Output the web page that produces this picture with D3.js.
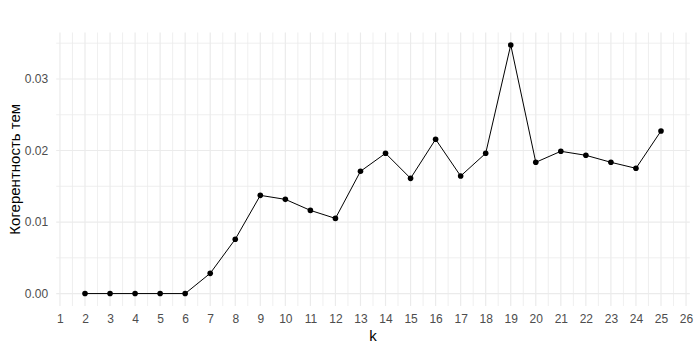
<!DOCTYPE html>
<html lang="ru">

<head>
    <meta charset="UTF-8">
    <title>Когерентность тем</title>
    <script src="https://d3js.org/d3.v7.min.js"></script>
    <style>
        body { margin: 0; background: #fff; }
        text { font-family: "Liberation Sans", Arial, sans-serif; }
    </style>
</head>

<body>
    <div id="chart"></div>
    <script>
        // data
        var kValues = [2, 3, 4, 5, 6, 7, 8, 9, 10, 11, 12, 13, 14, 15, 16, 17, 18, 19, 20, 21, 22, 23, 24, 25];
        var coherence = [0, 0, 0, 0, 0, 0.00283, 0.0076, 0.01373, 0.01317, 0.01163, 0.01051, 0.01709,
            0.01961, 0.01611, 0.02157, 0.01643, 0.01961, 0.03476, 0.01835, 0.01989, 0.01933, 0.01835,
            0.01751, 0.02273];
        var xTicks = d3.range(1, 27);
        var yTicks = [0, 0.01, 0.02, 0.03];

        var w = 700,
            h = 350;
        var panel = { left: 56.2, right: 689.8, top: 32.5, bottom: 306 };

        var data = kValues.map(function(k, i) {
            return { k: k, v: coherence[i] };
        });

        var svg = d3.select("#chart").append("svg")
            .attr("width", w)
            .attr("height", h);

        // ggplot-style 5% expansion
        var xr = d3.extent(kValues), yr = d3.extent(coherence);
        var xPad = (xr[1] - xr[0]) * 0.05, yPad = (yr[1] - yr[0]) * 0.05;

        var x = d3.scaleLinear()
            .domain([xr[0] - xPad, xr[1] + xPad])
            .range([panel.left, panel.right]);
        var y = d3.scaleLinear()
            .domain([yr[0] - yPad, yr[1] + yPad])
            .range([panel.bottom, panel.top]);

        var grid = svg.append("g");

        //minor grid ----------------------
        var xMinor = d3.range(0.5, 27, 1).filter(function(d) { return d >= x.domain()[0] && d <= x.domain()[1]; });
        var yMinor = d3.range(0.005, 0.04, 0.01).filter(function(d) { return d <= y.domain()[1]; });

        grid.selectAll(".xminor").data(xMinor).enter().append("line")
            .attr("x1", function(d) { return x(d); })
            .attr("x2", function(d) { return x(d); })
            .attr("y1", panel.top).attr("y2", panel.bottom)
            .attr("stroke", "#ebebeb").attr("stroke-width", 0.8);
        grid.selectAll(".yminor").data(yMinor).enter().append("line")
            .attr("x1", panel.left).attr("x2", panel.right)
            .attr("y1", function(d) { return y(d); })
            .attr("y2", function(d) { return y(d); })
            .attr("stroke", "#ebebeb").attr("stroke-width", 0.8);

        //major grid ----------------------
        grid.selectAll(".xmajor").data(xTicks).enter().append("line")
            .attr("x1", function(d) { return x(d); })
            .attr("x2", function(d) { return x(d); })
            .attr("y1", panel.top).attr("y2", panel.bottom)
            .attr("stroke", "#ebebeb").attr("stroke-width", 1.2);
        grid.selectAll(".ymajor").data(yTicks).enter().append("line")
            .attr("x1", panel.left).attr("x2", panel.right)
            .attr("y1", function(d) { return y(d); })
            .attr("y2", function(d) { return y(d); })
            .attr("stroke", "#ebebeb").attr("stroke-width", 1.2);

        //axes (labels only) ---------------
        var xAxis = svg.append("g")
            .attr("transform", "translate(0," + panel.bottom + ")")
            .call(d3.axisBottom(x).tickValues(xTicks).tickSize(0).tickPadding(8).tickFormat(d3.format("d")));
        var yAxis = svg.append("g")
            .attr("transform", "translate(" + panel.left + ",0)")
            .call(d3.axisLeft(y).tickValues(yTicks).tickSize(0).tickPadding(8).tickFormat(d3.format(".2f")));

        [xAxis, yAxis].forEach(function(a) {
            a.select(".domain").remove();
            a.selectAll("text")
                .attr("fill", "#4d4d4d")
                .style("font-size", "12px")
                .style("font-family", "'Liberation Sans', Arial, sans-serif");
        });

        //line + points --------------------
        var line = d3.line()
            .x(function(d) { return x(d.k); })
            .y(function(d) { return y(d.v); });

        svg.append("path")
            .datum(data)
            .attr("d", line)
            .attr("fill", "none")
            .attr("stroke", "#000")
            .attr("stroke-width", 1);

        svg.selectAll("circle").data(data).enter().append("circle")
            .attr("cx", function(d) { return x(d.k); })
            .attr("cy", function(d) { return y(d.v); })
            .attr("r", 2.8)
            .attr("fill", "#000");

        //titles ---------------------------
        svg.append("text")
            .attr("x", (panel.left + panel.right) / 2)
            .attr("y", 341)
            .attr("text-anchor", "middle")
            .style("font-size", "15px")
            .text("k");

        svg.append("text")
            .attr("transform", "translate(20," + (panel.top + panel.bottom) / 2 + ") rotate(-90)")
            .attr("text-anchor", "middle")
            .style("font-size", "15px")
            .text("Когерентность тем");
    </script>
</body>

</html>
